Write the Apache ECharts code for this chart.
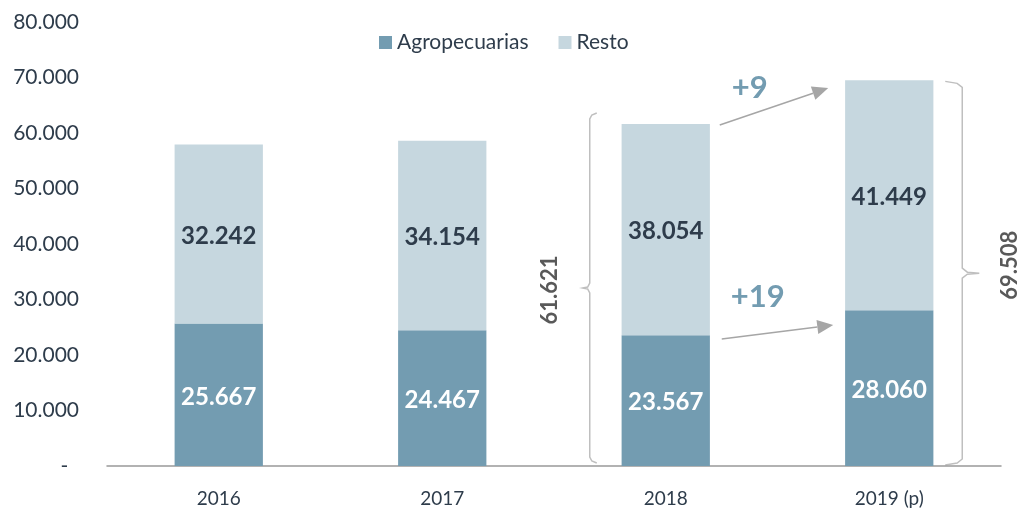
<!DOCTYPE html>
<html>
<head>
<meta charset="utf-8">
<script src="https://cdn.jsdelivr.net/npm/echarts@6/dist/echarts.min.js"></script>
<style>
  html, body { margin: 0; padding: 0; background: #fff; }
  #chart { width: 1024px; height: 513px; }
</style>
</head>
<body>
<div id="chart"></div>
<script>
// datos
const years = ["2016", "2017", "2018", "2019 (p)"];
const agro = [25667, 24467, 23567, 28060];
const resto = [32242, 34154, 38054, 41449];
const totals = [57909, 58621, 61621, 69508];
const deltas = ["+9", "+19"];

const AGRO = "#739cb1";
const RESTO = "#c6d7df";
const DARK = "#2e3c4b";
const FONT = "Lato";

const fmt = (v) => (v === 0 ? "-" : v.toLocaleString("de-DE"));

const myChart = echarts.init(document.getElementById("chart"));
const option = {
  animation: false,
  textStyle: { fontFamily: FONT },
  grid: { left: 107, right: 23, top: 22, bottom: 47 },
  legend: {
    top: 27,
    left: 374,
    itemWidth: 13,
    itemHeight: 13,
    itemGap: 30,
    icon: "rect",
    textStyle: { fontSize: 21, color: DARK, fontFamily: FONT },
    data: ["Agropecuarias", "Resto"],
  },
  xAxis: {
    type: "category",
    data: years,
    axisLine: { lineStyle: { color: "#999", width: 1.5 } },
    axisTick: { show: false },
    axisLabel: { color: DARK, fontSize: 19, margin: 23 },
  },
  yAxis: {
    type: "value",
    min: 0,
    max: 80000,
    interval: 10000,
    splitLine: { show: false },
    axisLine: { show: false },
    axisTick: { show: false },
    axisLabel: {
      color: DARK,
      fontSize: 21,
      margin: 28,
      formatter: (v) => (v === 0 ? "-  " : fmt(v)),
    },
  },
  series: [
    {
      name: "Agropecuarias",
      type: "bar",
      stack: "t",
      data: agro,
      barWidth: "39.5%",
      itemStyle: { color: AGRO },
      label: {
        show: true,
        position: "inside",
        offset: [0, 2],
        color: "#fff",
        fontWeight: "bold",
        fontSize: 24,
        formatter: (p) => fmt(p.value),
      },
    },
    {
      name: "Resto",
      type: "bar",
      stack: "t",
      data: resto,
      itemStyle: { color: RESTO },
      label: {
        show: true,
        position: "inside",
        offset: [0, 2],
        color: DARK,
        fontWeight: "bold",
        fontSize: 24,
        formatter: (p) => fmt(p.value),
      },
    },
  ],
};
myChart.setOption(option);

// anotaciones (llaves y flechas) a partir de las escalas del gráfico
function px(cat, val) {
  return myChart.convertToPixel({ gridIndex: 0 }, [cat, val]);
}
function brace(x, top, bot, c) {
  const mid = (top + bot) / 2;
  return {
    type: "polyline",
    shape: {
      points: [
        [x - c, top], [x - c * 0.3, top + 2], [x, top + 6], [x, mid - 5],
        [x + c * 0.3, mid - 1], [x + c, mid], [x + c * 0.3, mid + 1],
        [x, mid + 5], [x, bot - 6], [x - c * 0.3, bot - 2], [x - c, bot],
      ],
    },
    style: { stroke: "#bfbfbf", lineWidth: 1.5, fill: null },
  };
}
function arrow(x1, y1, x2, y2) {
  const a = Math.atan2(y2 - y1, x2 - x1);
  const L = 16, W = 7;
  const bx = x2 - L * Math.cos(a), by = y2 - L * Math.sin(a);
  return [
    {
      type: "line",
      shape: { x1, y1, x2: bx, y2: by },
      style: { stroke: "#a6a6a6", lineWidth: 1.5 },
    },
    {
      type: "polygon",
      shape: {
        points: [
          [x2, y2],
          [bx - W * Math.sin(a), by + W * Math.cos(a)],
          [bx + W * Math.sin(a), by - W * Math.cos(a)],
        ],
      },
      style: { fill: "#a6a6a6" },
    },
  ];
}
const half = 44;
const p18top = px(2, totals[2]);
const p19top = px(3, totals[3]);
const p18agro = px(2, agro[2]);
const p19agro = px(3, agro[3]);
const base18 = px(2, 0);
const base19 = px(3, 0);

const lx = p18top[0] - half - 32;
const rx = p19top[0] + half + 29;
const lTop = px(2, 63600)[1], lBot = base18[1] - 3;
const rTop = px(3, 69300)[1], rBot = base19[1] - 1;

const graphics = [
  brace(lx, lTop, lBot, -7),
  brace(rx, rTop, rBot, 17),
  ...arrow(p18top[0] + half + 10, p18top[1] + 1, p19top[0] - half - 17, px(3, 68100)[1]),
  ...arrow(p18agro[0] + half + 12, px(2, 22900)[1], p19agro[0] - half - 12, px(3, 25400)[1]),
  {
    type: "text",
    x: p18top[0] + half + 40, y: px(2, 68100)[1],
    style: {
      text: deltas[0], fill: AGRO, font: "bold 31px " + FONT,
      align: "center", verticalAlign: "middle",
    },
  },
  {
    type: "text",
    x: p18agro[0] + half + 48, y: px(2, 30400)[1],
    style: {
      text: deltas[1], fill: AGRO, font: "bold 31px " + FONT,
      align: "center", verticalAlign: "middle",
    },
  },
  {
    type: "text",
    x: lx - 40, y: (lTop + lBot) / 2 + 2,
    rotation: Math.PI / 2,
    style: {
      text: fmt(totals[2]), fill: "#595959", font: "bold 22px " + FONT,
      align: "center", verticalAlign: "middle",
    },
  },
  {
    type: "text",
    x: rx + 48, y: (rTop + rBot) / 2 - 8,
    rotation: Math.PI / 2,
    style: {
      text: fmt(totals[3]), fill: "#595959", font: "bold 22px " + FONT,
      align: "center", verticalAlign: "middle",
    },
  },
];
myChart.setOption({ graphic: graphics });
</script>
</body>
</html>
